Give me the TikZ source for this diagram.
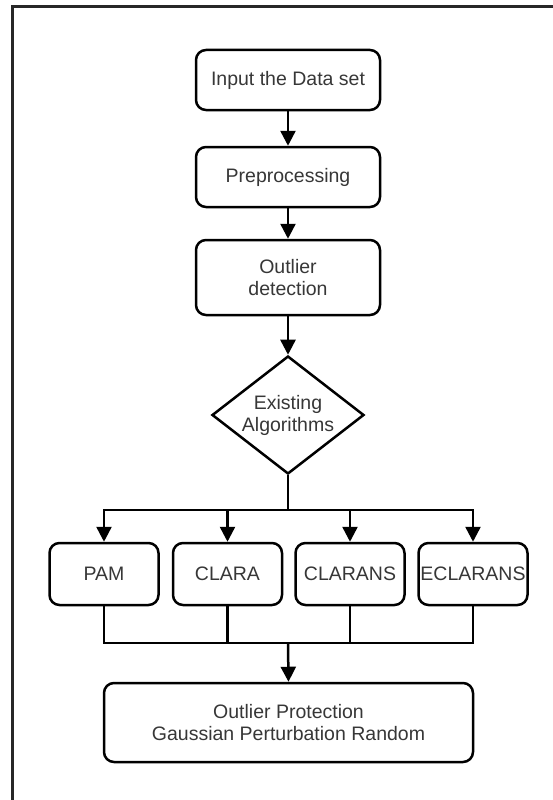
\documentclass[tikz,border=0pt]{standalone}
\usepackage{fontspec}
\setmainfont{Liberation Sans}
\usetikzlibrary{shapes.geometric,arrows.meta}
\definecolor{txt}{RGB}{55,55,55}
\definecolor{frm}{RGB}{40,40,40}
\tikzset{
  box/.style={draw=black, line width=2.5pt, rounded corners=10pt, rectangle, align=center,
    text=txt, font=\fontsize{19.5}{22}\selectfont, inner sep=0pt},
  dia/.style={draw=black, line width=2.5pt, diamond, shape aspect=1.3, align=center, text=txt,
    font=\fontsize{19.5}{22}\selectfont, inner sep=0pt, minimum width=152pt, minimum height=118pt},
  link/.style={draw=black, line width=2.5pt},
  arr/.style={link, -{Triangle[length=15pt,width=15pt]}}
}
\begin{document}
\begin{tikzpicture}[x=1pt,y=-1pt]
\useasboundingbox (0,0) rectangle (553,800);
\fill[white] (0,0) rectangle (553,800);
\draw[frm, line width=3pt] (12,800) -- (12,7) -- (553,7);

\node[box, minimum width=184pt, minimum height=60pt] (in) at (288,80) {Input the Data set};
\node[box, minimum width=184pt, minimum height=60pt] (pre) at (288,177) {Preprocessing};
\node[box, minimum width=184pt, minimum height=75pt] (od) at (288,277.5) {Outlier\\detection};
\node[dia] (ex) at (288,415) {Existing\\Algorithms};

\node[box, minimum width=109pt, minimum height=62pt] (pam) at (104,574) {PAM};
\node[box, minimum width=109pt, minimum height=62pt] (clara) at (227.5,574) {CLARA};
\node[box, minimum width=109pt, minimum height=62pt] (clarans) at (350,574) {CLARANS};
\node[box, minimum width=109pt, minimum height=62pt] (ecl) at (473,574) {ECLARANS};

\node[box, minimum width=369pt, minimum height=79pt] (op) at (288.5,722.5) {Outlier Protection\\Gaussian Perturbation Random};

\coordinate (j1) at (288,510);
\coordinate (j2) at (288,643);

\draw[arr] (in) -- (pre);
\draw[arr] (pre) -- (od);
\draw[arr] (od) -- (ex);
\draw[link] (ex.south) -- (j1);
\draw[arr] (j1) -| (pam.north);
\draw[arr] (j1) -| (clara.north);
\draw[arr] (j1) -| (clarans.north);
\draw[arr] (j1) -| (ecl.north);

\draw[link] (pam.south) |- (j2) -| (ecl.south);
\draw[link] (clara.south) -- (clara.south |- j2);
\draw[link] (clarans.south) -- (clarans.south |- j2);
\draw[arr] (j2) -- (op.north);
\end{tikzpicture}
\end{document}
